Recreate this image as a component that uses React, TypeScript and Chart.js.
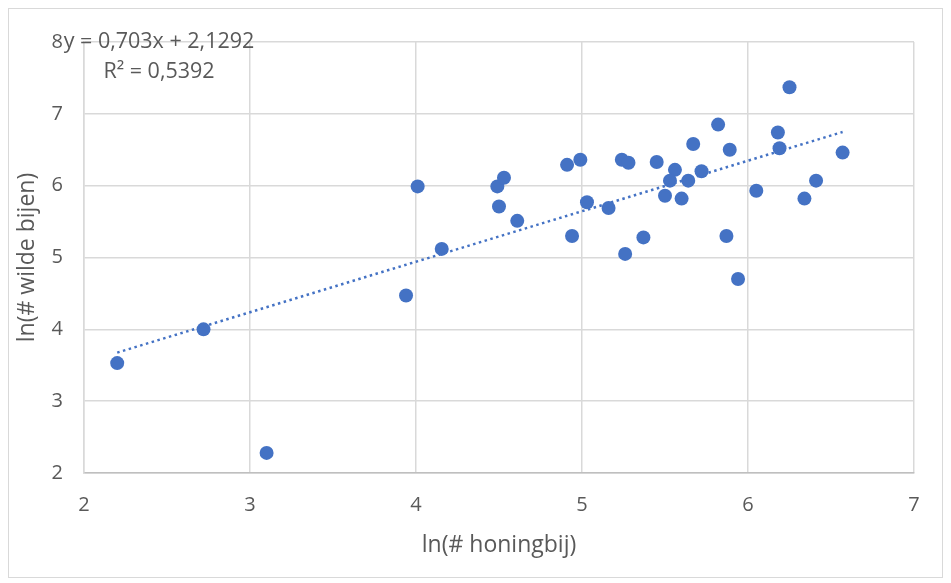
import React, { useEffect, useRef } from "react";
import { Chart, registerables } from "chart.js";

Chart.register(...registerables);

// ln(# honingbij)
const honingbij: number[] = [
  4.01, 4.155, 3.94, 4.49, 4.53, 4.5, 4.61, 4.91, 4.99, 4.94, 5.03, 5.16, 5.24,
  5.28, 5.26, 5.37, 5.45, 5.56, 5.53, 5.5, 5.6, 5.64, 5.67, 5.72, 5.82, 5.89,
  5.87, 5.94, 6.05, 6.18, 6.19, 6.25, 6.34, 6.41, 6.57, 2.2, 2.72, 3.1,
];
// ln(# wilde bijen)
const wildeBijen: number[] = [
  5.99, 5.12, 4.47, 5.99, 6.11, 5.71, 5.51, 6.29, 6.36, 5.3, 5.77, 5.69, 6.36,
  6.32, 5.05, 5.28, 6.33, 6.22, 6.07, 5.86, 5.82, 6.07, 6.58, 6.2, 6.85, 6.5,
  5.3, 4.7, 5.93, 6.74, 6.52, 7.37, 5.82, 6.07, 6.46, 3.53, 4.0, 2.28,
];

const slope = 0.703;
const intercept = 2.1292;
const equationText = "y = 0,703x + 2,1292";
const r2Text = "R² = 0,5392";

const xTicks = [2, 3, 4, 5, 6, 7];
const yTicks = [2, 3, 4, 5, 6, 7, 8];

const xTitle = "ln(# honingbij)";
const yTitle = "ln(# wilde bijen)";

const FONT = "'Open Sans', 'Liberation Sans', sans-serif";
const TEXT = "#595959";
const BLUE = "#4472C4";

export default function App() {
  const ref = useRef<HTMLCanvasElement | null>(null);

  useEffect(() => {
    if (!ref.current) return;
    const points = honingbij.map((x, i) => ({ x, y: wildeBijen[i] }));
    const xmin = Math.min(...honingbij);
    const xmax = Math.max(...honingbij);
    const trend = [
      { x: xmin, y: slope * xmin + intercept },
      { x: xmax, y: slope * xmax + intercept },
    ];

    const eqPlugin = {
      id: "eqLabel",
      afterDatasetsDraw(chart: any) {
        const { ctx, chartArea } = chart;
        ctx.save();
        ctx.fillStyle = TEXT;
        ctx.font = `21.5px ${FONT}`;
        ctx.textAlign = "center";
        ctx.textBaseline = "middle";
        const cx = chartArea.left + 75;
        ctx.fillText(equationText, cx, chartArea.top);
        ctx.fillText(r2Text, cx, chartArea.top + 30);
        ctx.restore();
      },
    };

    const chart = new Chart(ref.current, {
      type: "scatter",
      data: {
        datasets: [
          {
            type: "line",
            data: trend,
            borderColor: BLUE,
            borderWidth: 2.5,
            borderDash: [2.5, 3.5],
            pointRadius: 0,
            fill: false,
          } as any,
          {
            data: points,
            backgroundColor: BLUE,
            borderColor: BLUE,
            pointRadius: 7,
            pointBorderWidth: 0,
          },
        ],
      },
      options: {
        animation: false,
        responsive: false,
        layout: { padding: { left: 0, top: 30, right: 28, bottom: 0 } },
        plugins: {
          legend: { display: false },
          tooltip: { enabled: false },
        },
        scales: {
          x: {
            type: "linear",
            min: 2,
            max: 7,
            afterBuildTicks: (s: any) => {
              s.ticks = xTicks.map((v) => ({ value: v }));
            },
            afterFit: (s: any) => {
              s.height = 104;
            },
            grid: { color: "#d9d9d9", lineWidth: 1.5, drawTicks: false },
            border: { color: "#bfbfbf", width: 1.5 },
            ticks: {
              color: TEXT,
              font: { family: FONT, size: 20 },
              padding: 20,
            },
            title: {
              display: true,
              text: xTitle,
              color: TEXT,
              font: { family: FONT, size: 23 },
              padding: { top: 0, bottom: 18 },
            },
          },
          y: {
            type: "linear",
            min: 2,
            max: 8,
            afterBuildTicks: (s: any) => {
              s.ticks = yTicks.map((v) => ({ value: v }));
            },
            afterFit: (s: any) => {
              s.width = 75;
            },
            grid: { color: "#d9d9d9", lineWidth: 1.5, drawTicks: false },
            border: { color: "#d9d9d9", width: 1.5 },
            ticks: {
              color: TEXT,
              font: { family: FONT, size: 20 },
              padding: 21,
            },
            title: {
              display: true,
              text: yTitle,
              color: TEXT,
              font: { family: FONT, size: 23 },
              padding: { top: 5, bottom: 0 },
            },
          },
        },
      },
      plugins: [eqPlugin],
    });
    return () => chart.destroy();
  }, []);

  return (
    <div
      style={{
        width: 933,
        height: 568,
        border: "1px solid #d9d9d9",
        background: "#fff",
      }}
    >
      <canvas ref={ref} width={933} height={568} style={{ display: "block" }} />
    </div>
  );
}
